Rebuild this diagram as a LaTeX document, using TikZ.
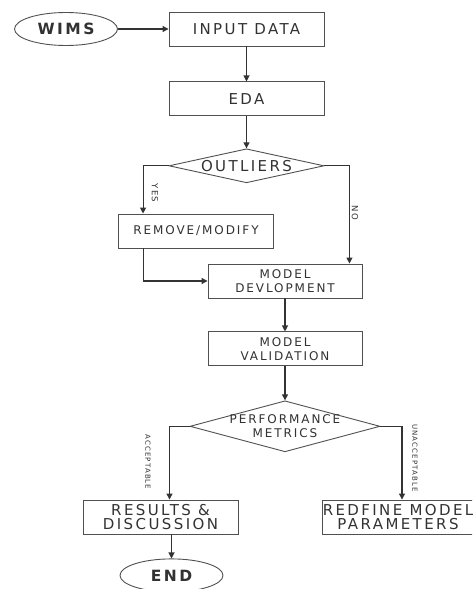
\documentclass[tikz,border=0pt]{standalone}
\usepackage{fontspec}
\newfontfamily\flowfont[LetterSpace=16]{DejaVu Sans}
\usepackage{xcolor}
\definecolor{fcline}{RGB}{80,80,80}
\definecolor{fctext}{RGB}{50,50,50}
\usetikzlibrary{shapes.geometric,arrows.meta,positioning,calc}
\tikzset{
  procbox/.style={draw=fcline, line width=0.9pt, minimum width=155pt, minimum height=34pt, inner sep=0pt, align=center, text=fctext},
  bigtxt/.style={font=\flowfont\fontsize{15}{14.5}\selectfont},
  smalltxt/.style={font=\flowfont\fontsize{12}{14.5}\selectfont},
  term/.style={draw=fcline, ellipse, line width=0.9pt, minimum width=103pt, minimum height=33pt, inner sep=0pt, text=fctext, font=\flowfont\bfseries\fontsize{15.5}{15}\selectfont},
  dec/.style={draw=fcline, diamond, line width=0.9pt, inner sep=0pt},
  arr/.style={-{Triangle[length=6pt,width=6pt]}, line width=1.1pt, draw=black!80},
  lbl/.style={font=\flowfont\fontsize{8.5}{8}\selectfont, rotate=-90, text=fctext, inner sep=0pt},
  tinylbl/.style={lbl, font=\flowfont\fontsize{7}{6.5}\selectfont}
}
\begin{document}
\begin{tikzpicture}[x=1pt, y=1pt]
  \clip (0,0) rectangle (472,-589);
  % main column
  \node[procbox, bigtxt] (input) at (246.5,-29) {INPUT DATA};
  \node[term] (wims) at (66,-29) {WIMS};
  \node[procbox, bigtxt, below=35pt of input] (eda) {EDA};
  \node[dec, minimum width=155pt, minimum height=34pt, below=32pt of eda,
        label={[bigtxt, text=fctext]center:OUTLIERS}] (outl) {};
  \node[procbox, smalltxt] (remove) at (196,-231) {REMOVE/MODIFY};
  \node[procbox, smalltxt, minimum width=154pt] (dev) at (285,-281) {MODEL\\DEVLOPMENT};
  \node[procbox, smalltxt, minimum width=154pt, below=33pt of dev] (val) {MODEL\\VALIDATION};
  \node[dec, minimum width=190pt, minimum height=51pt, below=34pt of val,
        label={[smalltxt, align=center, text=fctext]center:PERFORMANCE\\METRICS}] (perf) {};
  \node[procbox, bigtxt] (results) at (160.5,-517) {RESULTS \&\\DISCUSSION};
  \node[procbox, bigtxt, minimum width=150pt] (redef) at (398,-517) {REDFINE MODEL\\PARAMETERS};
  \node[term, below=24pt of results, xshift=11pt] (end) {END};
  % branch labels
  \node[lbl] (yes) at (155,-193) {YES};
  \node[lbl] (no) at (355,-213) {NO};
  \node[tinylbl] (acc) at (148,-462) {ACCEPTABLE};
  \node[tinylbl] (unacc) at (415,-458) {UNACCEPTABLE};
  % connectors
  \draw[arr] (wims) -- (input);
  \draw[arr] (input) -- (eda);
  \draw[arr] (eda) -- (outl);
  \draw[arr] (outl.west) -| ([xshift=25pt]remove.north west);
  \draw[arr] (outl.east) -| ([xshift=-13pt]dev.north east);
  \draw[arr] ([xshift=25pt]remove.south west) |- (dev.west);
  \draw[arr] (dev) -- (val);
  \draw[arr] (val) -- (perf);
  \draw[arr] (perf.west) -| ([xshift=9pt]results.north);
  \draw[arr] (perf.east) -| ([xshift=4pt]redef.north);
  \draw[arr] ([xshift=11pt]results.south) -- (end);
\end{tikzpicture}
\end{document}
